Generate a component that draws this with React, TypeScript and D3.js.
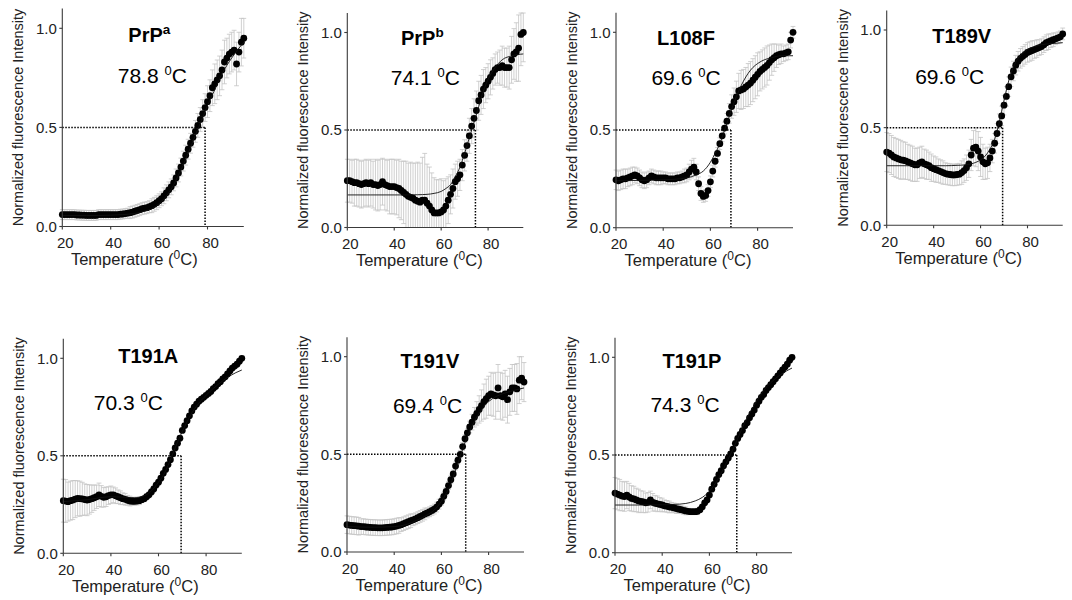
import * as d3 from 'd3';

// temperature grid of the measurements (one point per degree)
const temps = [
  20, 21, 22, 23, 24, 25, 26, 27, 28, 29, 30, 31, 32, 33, 34, 35, 36, 37, 38, 39,
  40, 41, 42, 43, 44, 45, 46, 47, 48, 49, 50, 51, 52, 53, 54, 55, 56, 57, 58, 59,
  60, 61, 62, 63, 64, 65, 66, 67, 68, 69, 70, 71, 72, 73, 74, 75, 76, 77, 78, 79,
  80, 81, 82, 83, 84, 85, 86, 87, 88, 89, 90, 91, 92, 93, 94, 95,
];
// temperatures at which the fitted curves were read
const fitTemps = [20, 30, 40, 45, 50, 54, 57, 60, 62, 64, 66, 68, 70, 72, 74, 76, 78, 80, 83, 86, 90, 95];

const names = ['PrP', 'PrP', 'L108F', 'T189V', 'T191A', 'T191V', 'T191P'];
const nameSup = ['a', 'b', '', '', '', '', ''];
const tmLabels = ['78.8', '74.1', '69.6', '69.6', '70.3', '69.4', '74.3'];
const tmLines = [79.0, 74.6, 68.7, 69.4, 69.5, 70.3, 71.6];

const prpaY = [
  0.06, 0.06, 0.06, 0.06, 0.06, 0.06, 0.058, 0.058, 0.057, 0.057,
  0.056, 0.056, 0.056, 0.056, 0.056, 0.06, 0.06, 0.06, 0.06, 0.06,
  0.06, 0.06, 0.06, 0.06, 0.062, 0.063, 0.065, 0.067, 0.07, 0.073,
  0.077, 0.081, 0.085, 0.09, 0.093, 0.095, 0.1, 0.105, 0.112, 0.12,
  0.13, 0.14, 0.155, 0.17, 0.185, 0.2, 0.22, 0.245, 0.27, 0.3,
  0.33, 0.36, 0.39, 0.42, 0.45, 0.48, 0.51, 0.54, 0.57, 0.6,
  0.63, 0.66, 0.7, 0.72, 0.74, 0.76, 0.79, 0.83, 0.85, 0.87,
  0.88, 0.89, 0.82, 0.88, 0.93, 0.95,
];
const prpaErr = [
  0.025, 0.025, 0.025, 0.025, 0.025, 0.025, 0.025, 0.025, 0.025, 0.025,
  0.025, 0.025, 0.025, 0.025, 0.025, 0.025, 0.025, 0.025, 0.025, 0.025,
  0.025, 0.025, 0.025, 0.025, 0.025, 0.025, 0.025, 0.025, 0.03, 0.03,
  0.03, 0.03, 0.03, 0.03, 0.03, 0.03, 0.03, 0.035, 0.035, 0.035,
  0.035, 0.035, 0.04, 0.04, 0.04, 0.04, 0.04, 0.045, 0.045, 0.045,
  0.05, 0.05, 0.05, 0.05, 0.05, 0.055, 0.06, 0.06, 0.07, 0.07,
  0.08, 0.08, 0.09, 0.1, 0.1, 0.1, 0.1, 0.11, 0.1, 0.1,
  0.1, 0.1, 0.11, 0.1, 0.12, 0.1,
];
const prpaFit = [0.055, 0.055, 0.057, 0.06, 0.066, 0.077, 0.09, 0.115, 0.14, 0.17, 0.21, 0.26, 0.31, 0.37, 0.43, 0.49, 0.55, 0.61, 0.69, 0.77, 0.85, 0.93];

const prpbY = [
  0.24, 0.24, 0.235, 0.23, 0.23, 0.225, 0.22, 0.225, 0.23, 0.225,
  0.23, 0.22, 0.22, 0.215, 0.22, 0.235, 0.22, 0.215, 0.21, 0.21,
  0.21, 0.205, 0.2, 0.19, 0.18, 0.17, 0.16, 0.155, 0.15, 0.14,
  0.135, 0.13, 0.14, 0.14, 0.125, 0.11, 0.09, 0.075, 0.075, 0.075,
  0.08, 0.09, 0.11, 0.14, 0.17, 0.2, 0.235, 0.25, 0.27, 0.32,
  0.37, 0.42, 0.47, 0.52, 0.56, 0.6, 0.65, 0.68, 0.71, 0.73,
  0.75, 0.77, 0.79, 0.81, 0.82, 0.82, 0.83, 0.82, 0.82, 0.82,
  0.86, 0.89, 0.9, 0.92, 0.99, 1.0,
];
const prpbErr = [
  0.11, 0.11, 0.11, 0.12, 0.12, 0.12, 0.12, 0.12, 0.12, 0.12,
  0.12, 0.12, 0.13, 0.13, 0.13, 0.12, 0.13, 0.13, 0.14, 0.14,
  0.14, 0.14, 0.15, 0.15, 0.16, 0.17, 0.17, 0.18, 0.18, 0.19,
  0.2, 0.2, 0.22, 0.24, 0.2, 0.2, 0.19, 0.18, 0.17, 0.17,
  0.17, 0.15, 0.14, 0.12, 0.1, 0.1, 0.09, 0.09, 0.08, 0.08,
  0.08, 0.08, 0.09, 0.09, 0.1, 0.1, 0.1, 0.1, 0.1, 0.09,
  0.09, 0.09, 0.08, 0.08, 0.08, 0.09, 0.1, 0.1, 0.1, 0.11,
  0.12, 0.13, 0.15, 0.17, 0.16, 0.15,
];
const prpbFit = [0.167, 0.167, 0.167, 0.167, 0.168, 0.17, 0.175, 0.185, 0.2, 0.22, 0.26, 0.31, 0.38, 0.46, 0.54, 0.62, 0.7, 0.76, 0.82, 0.86, 0.88, 0.89];

const l108fY = [
  0.245, 0.24, 0.245, 0.25, 0.25, 0.255, 0.26, 0.265, 0.27, 0.265,
  0.255, 0.245, 0.24, 0.245, 0.255, 0.265, 0.26, 0.255, 0.255, 0.255,
  0.255, 0.255, 0.25, 0.25, 0.25, 0.25, 0.255, 0.255, 0.26, 0.265,
  0.27, 0.285, 0.3, 0.31, 0.285, 0.225, 0.175, 0.16, 0.165, 0.19,
  0.235, 0.29, 0.34, 0.38, 0.43, 0.47, 0.51, 0.545, 0.585, 0.62,
  0.645, 0.67, 0.7, 0.705, 0.71, 0.72, 0.73, 0.74, 0.755, 0.77,
  0.785, 0.8, 0.81, 0.82, 0.83, 0.845, 0.86, 0.87, 0.88, 0.885,
  0.89, 0.89, 0.895, 0.9, 0.96, 1.0,
];
const l108fErr = [
  0.05, 0.05, 0.05, 0.05, 0.05, 0.045, 0.045, 0.045, 0.04, 0.04,
  0.04, 0.04, 0.04, 0.04, 0.035, 0.035, 0.035, 0.035, 0.035, 0.035,
  0.03, 0.03, 0.03, 0.03, 0.03, 0.03, 0.03, 0.03, 0.03, 0.035,
  0.035, 0.04, 0.045, 0.045, 0.04, 0.035, 0.035, 0.03, 0.03, 0.03,
  0.03, 0.03, 0.03, 0.03, 0.03, 0.03, 0.03, 0.04, 0.05, 0.06,
  0.07, 0.08, 0.09, 0.1, 0.1, 0.1, 0.11, 0.11, 0.11, 0.11,
  0.11, 0.1, 0.1, 0.1, 0.1, 0.09, 0.08, 0.07, 0.06, 0.05,
  0.05, 0.04, 0.04, 0.04, 0.04, 0.03,
];
const l108fFit = [0.24, 0.242, 0.245, 0.248, 0.255, 0.27, 0.29, 0.335, 0.38, 0.43, 0.5, 0.57, 0.64, 0.7, 0.75, 0.79, 0.82, 0.84, 0.86, 0.87, 0.88, 0.88];

const t189vY = [
  0.375, 0.37, 0.36, 0.35, 0.345, 0.34, 0.335, 0.333, 0.33, 0.325,
  0.32, 0.315, 0.31, 0.31, 0.32, 0.325, 0.315, 0.31, 0.305, 0.295,
  0.29, 0.285, 0.28, 0.275, 0.27, 0.265, 0.262, 0.26, 0.258, 0.258,
  0.26, 0.262, 0.27, 0.28, 0.295, 0.315, 0.36, 0.395, 0.4, 0.38,
  0.35, 0.325, 0.315, 0.32, 0.345, 0.38, 0.42, 0.47, 0.52, 0.56,
  0.615, 0.66, 0.71, 0.76, 0.79, 0.82, 0.84, 0.855, 0.865, 0.875,
  0.885, 0.89, 0.895, 0.9, 0.905, 0.91, 0.915, 0.925, 0.935, 0.94,
  0.945, 0.95, 0.955, 0.96, 0.965, 0.98,
];
const t189vErr = [
  0.1, 0.1, 0.1, 0.1, 0.1, 0.1, 0.1, 0.095, 0.095, 0.09,
  0.09, 0.09, 0.085, 0.085, 0.08, 0.08, 0.075, 0.075, 0.07, 0.07,
  0.065, 0.065, 0.06, 0.06, 0.06, 0.055, 0.055, 0.055, 0.055, 0.055,
  0.055, 0.055, 0.06, 0.06, 0.065, 0.07, 0.08, 0.09, 0.1, 0.1,
  0.1, 0.09, 0.08, 0.08, 0.07, 0.06, 0.05, 0.05, 0.05, 0.05,
  0.05, 0.05, 0.05, 0.05, 0.05, 0.05, 0.05, 0.05, 0.05, 0.05,
  0.05, 0.05, 0.05, 0.045, 0.045, 0.04, 0.04, 0.04, 0.04, 0.04,
  0.035, 0.035, 0.03, 0.03, 0.03, 0.03,
];
const t189vFit = [0.305, 0.305, 0.305, 0.305, 0.307, 0.31, 0.318, 0.335, 0.355, 0.39, 0.44, 0.53, 0.64, 0.74, 0.81, 0.855, 0.88, 0.9, 0.915, 0.925, 0.93, 0.935];

const t191aY = [
  0.27, 0.268, 0.265, 0.27, 0.273, 0.278, 0.282, 0.28, 0.279, 0.276,
  0.273, 0.276, 0.28, 0.285, 0.29, 0.3, 0.292, 0.287, 0.29, 0.296,
  0.3, 0.3, 0.295, 0.29, 0.285, 0.28, 0.277, 0.272, 0.268, 0.267,
  0.267, 0.268, 0.27, 0.275, 0.28, 0.29, 0.3, 0.315, 0.33, 0.35,
  0.365, 0.385, 0.41, 0.43, 0.455, 0.48, 0.51, 0.54, 0.565, 0.59,
  0.63, 0.655, 0.68, 0.705, 0.73, 0.75, 0.765, 0.78, 0.79, 0.8,
  0.81, 0.82, 0.83, 0.845, 0.855, 0.87, 0.88, 0.895, 0.905, 0.92,
  0.935, 0.95, 0.96, 0.97, 0.985, 1.0,
];
const t191aErr = [
  0.11, 0.11, 0.1, 0.1, 0.1, 0.095, 0.09, 0.09, 0.085, 0.08,
  0.08, 0.075, 0.07, 0.065, 0.06, 0.06, 0.055, 0.05, 0.05, 0.045,
  0.045, 0.04, 0.04, 0.035, 0.035, 0.03, 0.03, 0.025, 0.025, 0.02,
  0.02, 0.02, 0.02, 0.015, 0.015, 0.015, 0.015, 0.015, 0.015, 0.015,
  0.01, 0.01, 0.01, 0.01, 0.01, 0.01, 0.01, 0.01, 0.01, 0.01,
  0.01, 0.01, 0.01, 0.01, 0.01, 0.01, 0.01, 0.01, 0.01, 0.01,
  0.01, 0.01, 0.01, 0.01, 0.01, 0.01, 0.01, 0.01, 0.01, 0.01,
  0.01, 0.01, 0.01, 0.01, 0.01, 0.01,
];
const t191aFit = [0.265, 0.275, 0.29, 0.288, 0.285, 0.295, 0.32, 0.365, 0.4, 0.45, 0.51, 0.57, 0.625, 0.675, 0.72, 0.755, 0.785, 0.81, 0.845, 0.875, 0.91, 0.94];

const t191vY = [
  0.14, 0.138, 0.136, 0.135, 0.134, 0.132, 0.13, 0.13, 0.128, 0.127,
  0.126, 0.125, 0.125, 0.124, 0.124, 0.124, 0.125, 0.126, 0.127, 0.128,
  0.13, 0.133, 0.136, 0.14, 0.145, 0.15, 0.155, 0.16, 0.165, 0.17,
  0.176, 0.182, 0.188, 0.195, 0.2, 0.206, 0.213, 0.22, 0.23, 0.245,
  0.26, 0.285, 0.31, 0.34, 0.37, 0.4, 0.44, 0.47, 0.5, 0.54,
  0.58, 0.61, 0.64, 0.665, 0.69, 0.71, 0.73, 0.75, 0.77, 0.785,
  0.8, 0.81, 0.805, 0.8, 0.84, 0.8, 0.795, 0.81, 0.78, 0.82,
  0.84, 0.84, 0.835, 0.88, 0.89, 0.87,
];
const t191vErr = [
  0.045, 0.045, 0.045, 0.045, 0.045, 0.045, 0.04, 0.04, 0.04, 0.04,
  0.04, 0.04, 0.04, 0.04, 0.04, 0.04, 0.04, 0.04, 0.04, 0.04,
  0.04, 0.04, 0.04, 0.035, 0.035, 0.035, 0.035, 0.035, 0.03, 0.03,
  0.03, 0.03, 0.03, 0.03, 0.025, 0.025, 0.025, 0.025, 0.025, 0.025,
  0.02, 0.02, 0.02, 0.02, 0.02, 0.02, 0.02, 0.02, 0.02, 0.02,
  0.02, 0.02, 0.03, 0.04, 0.05, 0.06, 0.07, 0.08, 0.09, 0.1,
  0.1, 0.11, 0.11, 0.12, 0.12, 0.12, 0.12, 0.12, 0.12, 0.12,
  0.12, 0.12, 0.13, 0.12, 0.11, 0.1,
];
const t191vFit = [0.13, 0.127, 0.13, 0.14, 0.165, 0.19, 0.215, 0.26, 0.3, 0.35, 0.42, 0.49, 0.56, 0.62, 0.67, 0.71, 0.745, 0.77, 0.795, 0.81, 0.825, 0.84];

const t191pY = [
  0.305, 0.3, 0.295, 0.29, 0.287, 0.295, 0.285, 0.278, 0.275, 0.27,
  0.265, 0.262, 0.26, 0.255, 0.258, 0.27, 0.258, 0.253, 0.25, 0.247,
  0.244, 0.24, 0.237, 0.234, 0.232, 0.229, 0.226, 0.223, 0.22, 0.217,
  0.214, 0.212, 0.21, 0.21, 0.21, 0.212, 0.22, 0.235, 0.255, 0.27,
  0.295, 0.325, 0.35, 0.375, 0.4, 0.42, 0.445, 0.465, 0.485, 0.505,
  0.53, 0.56, 0.585, 0.605, 0.625, 0.65, 0.665, 0.69, 0.71, 0.73,
  0.755, 0.775, 0.795, 0.81, 0.83, 0.845, 0.86, 0.875, 0.89, 0.905,
  0.92, 0.935, 0.95, 0.965, 0.985, 1.0,
];
const t191pErr = [
  0.08, 0.08, 0.08, 0.075, 0.075, 0.07, 0.07, 0.065, 0.065, 0.06,
  0.06, 0.055, 0.055, 0.05, 0.05, 0.045, 0.045, 0.04, 0.04, 0.035,
  0.035, 0.03, 0.03, 0.03, 0.025, 0.025, 0.025, 0.02, 0.02, 0.02,
  0.02, 0.015, 0.015, 0.015, 0.015, 0.015, 0.01, 0.01, 0.01, 0.01,
  0.01, 0.01, 0.01, 0.01, 0.01, 0.01, 0.01, 0.01, 0.01, 0.01,
  0.01, 0.01, 0.01, 0.01, 0.01, 0.01, 0.01, 0.01, 0.01, 0.01,
  0.01, 0.01, 0.01, 0.01, 0.01, 0.01, 0.01, 0.01, 0.01, 0.01,
  0.01, 0.01, 0.01, 0.01, 0.01, 0.01,
];
const t191pFit = [0.244, 0.244, 0.245, 0.247, 0.252, 0.265, 0.283, 0.315, 0.345, 0.385, 0.43, 0.48, 0.53, 0.585, 0.64, 0.69, 0.735, 0.775, 0.83, 0.87, 0.91, 0.945];

const xTicks = [20, 40, 60, 80];
const yTicks = [0, 0.5, 1.0];

const seriesY = [prpaY, prpbY, l108fY, t189vY, t191aY, t191vY, t191pY];
const seriesErr = [prpaErr, prpbErr, l108fErr, t189vErr, t191aErr, t191vErr, t191pErr];
const seriesFit = [prpaFit, prpbFit, l108fFit, t189vFit, t191aFit, t191vFit, t191pFit];

// panel placement: axis origin, pixel of y=1.0, axis width, label offsets
const layout = [
  { left: 62.3, y0: 226.5, y1: 28.3, width: 181.5, title: [87, 13.4], tm: [90, 55] },
  { left: 347.3, y0: 227.5, y1: 32.5, width: 176, title: [75, 12.5], tm: [78, 52.5] },
  { left: 616, y0: 227.7, y1: 32.3, width: 177, title: [70, 12.7], tm: [70, 52.7] },
  { left: 886.7, y0: 225.3, y1: 30, width: 176, title: [75, 12.7], tm: [63, 54] },
  { left: 63.3, y0: 553.3, y1: 358.3, width: 178.5, title: [85, 5], tm: [65, 52] },
  { left: 347, y0: 552, y1: 356.7, width: 177, title: [83, 11.6], tm: [80.5, 56.6] },
  { left: 615, y0: 552.7, y1: 357.3, width: 177, title: [77, 11], tm: [70, 54.4] },
];

const FONT = '"Liberation Sans", Arial, Helvetica, sans-serif';
const AXIS = '#3a3a3a';

function Panel({ i }) {
  const L = layout[i];
  const x = d3.scaleLinear().domain([20, 95]).range([L.left, L.left + L.width]);
  const y = d3.scaleLinear().domain([0, 1]).range([L.y0, L.y1]);
  const vals = seriesY[i];
  const errs = seriesErr[i];
  const fit = seriesFit[i];

  const fitPath = d3.line<number>()
    .x((d, k) => x(fitTemps[k]))
    .y((d) => y(d))
    .curve(d3.curveMonotoneX)(fit);

  const tm = tmLines[i];

  return (
    <g>
      {/* error bars */}
      <g stroke="#c4c4c4" strokeWidth={0.8}>
        {temps.map((t, k) => {
          const lo = Math.max(0, vals[k] - errs[k]);
          const hi = Math.min(1.1, vals[k] + errs[k]);
          const cx = x(t);
          return (
            <g key={k}>
              <line x1={cx} x2={cx} y1={y(lo)} y2={y(hi)} />
              <line x1={cx - 2.4} x2={cx + 2.4} y1={y(hi)} y2={y(hi)} />
              {vals[k] - errs[k] > 0 && <line x1={cx - 2.4} x2={cx + 2.4} y1={y(lo)} y2={y(lo)} />}
            </g>
          );
        })}
      </g>

      {/* dotted Tm guides */}
      <g stroke="#000" strokeWidth={1.5} strokeDasharray="1.5,1.5" fill="none">
        <line x1={x(20)} x2={x(tm)} y1={y(0.5)} y2={y(0.5)} />
        <line x1={x(tm)} x2={x(tm)} y1={y(0.5)} y2={y(0)} />
      </g>

      {/* points */}
      <g fill="#000">
        {temps.map((t, k) => (
          <circle key={k} cx={x(t)} cy={y(vals[k])} r={3.4} />
        ))}
      </g>

      {/* fitted curve */}
      <path d={fitPath} fill="none" stroke="#111" strokeWidth={0.9} />

      {/* axes */}
      <g stroke={AXIS} strokeWidth={1.1} fill="none">
        <line x1={x(20)} x2={x(20)} y1={y(1.1)} y2={y(0)} />
        <line x1={x(20)} x2={x(95)} y1={y(0)} y2={y(0)} />
        {xTicks.map((t) => (
          <line key={t} x1={x(t)} x2={x(t)} y1={y(0)} y2={y(0) + 3} />
        ))}
        {yTicks.map((v) => (
          <line key={v} x1={x(20) - 3} x2={x(20)} y1={y(v)} y2={y(v)} />
        ))}
      </g>
      <g fontFamily={FONT} fontSize={15} fill="#222">
        {xTicks.map((t) => (
          <text key={t} x={x(t) + 3} y={y(0) + 21.5} textAnchor="middle">{t}</text>
        ))}
        {yTicks.map((v) => (
          <text key={v} x={x(20) - 5.5} y={y(v)} dy="0.36em" textAnchor="end">{v.toFixed(1)}</text>
        ))}
      </g>

      {/* axis titles */}
      <text
        x={L.left + 72}
        y={y(0) + 38.5}
        textAnchor="middle"
        fontFamily={FONT}
        fontSize={16.5}
        fill="#222"
      >
        <tspan>Temperature (</tspan>
        <tspan dy={-6} fontSize={12}>0</tspan>
        <tspan dy={6}>C)</tspan>
      </text>
      <text
        transform={`translate(${L.left - 44},${(y(0) + y(1.1)) / 2}) rotate(-90)`}
        textAnchor="middle"
        dy="0.35em"
        fontFamily={FONT}
        fontSize={14.5}
        fill="#222"
      >
        Normalized fluorescence Intensity
      </text>

      {/* panel labels */}
      <text
        x={L.left + L.title[0]}
        y={L.y1 + L.title[1]}
        textAnchor="middle"
        fontFamily={FONT}
        fontSize={20}
        fontWeight="bold"
        fill="#000"
      >
        <tspan>{names[i]}</tspan>
        {nameSup[i] && <tspan dy={-8} fontSize={13.5}>{nameSup[i]}</tspan>}
      </text>
      <text
        x={L.left + L.tm[0]}
        y={L.y1 + L.tm[1]}
        textAnchor="middle"
        fontFamily={FONT}
        fontSize={21}
        fill="#000"
      >
        <tspan>{tmLabels[i] + ' '}</tspan>
        <tspan dy={-8} fontSize={13}>0</tspan>
        <tspan dy={8}>C</tspan>
      </text>
    </g>
  );
}

export default function App() {
  return (
    <svg
      width={1072}
      height={600}
      style={{ position: 'absolute', left: 0, top: 0, background: '#fff' }}
    >
      {layout.map((_, i) => (
        <Panel key={i} i={i} />
      ))}
    </svg>
  );
}
